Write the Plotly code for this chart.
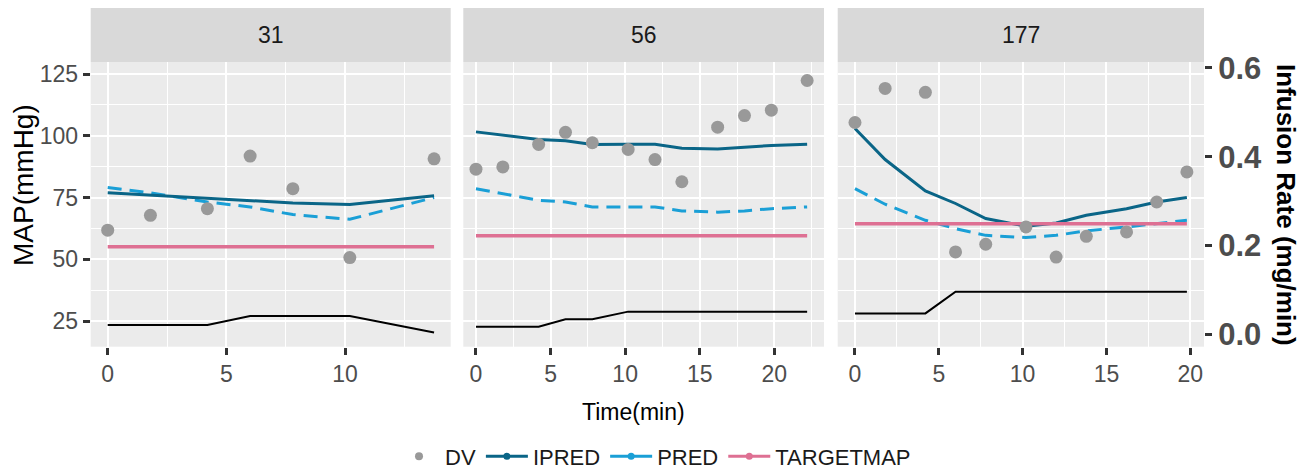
import plotly.graph_objects as go

W, H = 1309, 470
FONT = "Liberation Sans, Arial, sans-serif"

# ---- data per subject ----
subjects = ["31", "56", "177"]

time_31 = [0, 1.8, 4.2, 6.0, 7.8, 10.2, 13.75]
dv_31 = [61.8, 67.8, 70.5, 91.8, 78.6, 50.7, 90.7]
ipred_31 = [76.9, 75.9, 74.6, 73.6, 72.8, 72.2, 75.7]
pred_31 = [79.1, 76.9, 73.2, 71.2, 68.1, 66.2, 75.0]
target_31 = 55.1
rate_31 = [0.021, 0.021, 0.021, 0.041, 0.041, 0.041, 0.004]

time_56 = [0, 1.8, 4.2, 6.0, 7.8, 10.2, 12.0, 13.8, 16.2, 18.0, 19.8, 22.2]
dv_56 = [86.5, 87.4, 96.5, 101.4, 97.2, 94.5, 90.4, 81.4, 103.5, 108.2, 110.4, 122.4]
ipred_56 = [101.6, 100.3, 98.5, 98.0, 96.5, 96.6, 96.6, 95.0, 94.7, 95.4, 96.1, 96.6]
pred_56 = [78.6, 76.6, 73.9, 73.2, 71.2, 71.2, 71.2, 69.6, 69.1, 69.6, 70.5, 71.2]
target_56 = 59.5
rate_56 = [0.017, 0.017, 0.017, 0.034, 0.034, 0.051, 0.051, 0.051, 0.051, 0.051, 0.051, 0.051]

time_177 = [0, 1.8, 4.2, 6.0, 7.8, 10.2, 12.0, 13.8, 16.2, 18.0, 19.8]
dv_177 = [105.4, 119.2, 117.6, 53.0, 56.1, 63.1, 50.9, 59.3, 61.1, 73.2, 85.4]
ipred_177 = [103.0, 90.4, 77.7, 72.6, 66.5, 63.4, 64.7, 67.8, 70.5, 73.2, 75.0]
pred_177 = [78.6, 72.3, 65.8, 62.4, 59.7, 58.8, 59.7, 61.5, 63.1, 64.5, 65.8]
target_177 = 64.4
rate_177 = [0.047, 0.047, 0.047, 0.096, 0.096, 0.096, 0.096, 0.096, 0.096, 0.096, 0.096]

x_ticks = [0, 5, 10, 15, 20]
map_ticks = [25, 50, 75, 100, 125]
rate_ticks = [0.0, 0.2, 0.4, 0.6]

panels = [
    (time_31, dv_31, ipred_31, pred_31, target_31, rate_31),
    (time_56, dv_56, ipred_56, pred_56, target_56, rate_56),
    (time_177, dv_177, ipred_177, pred_177, target_177, rate_177),
]

# ---- layout geometry (pixels) ----
panel_px = [(90.7, 450.7), (463.3, 824.0), (837.7, 1204.0)]
x_ranges = [[-0.716, 14.45], [-0.85, 23.33], [-1.03, 20.82]]
plot_top, plot_bottom = 62.0, 346.7
strip_top = 8.0

def fx(p):
    return p / W

def fy(p):
    return 1 - p / H

C_DV = "#999999"
C_IPRED = "#0A6587"
C_PRED = "#1A9FD6"
C_TARGET = "#DE7093"

fig = go.Figure()

for i, (t, dv, ipred, pred, target, rate) in enumerate(panels):
    xa = "x" if i == 0 else f"x{i + 1}"
    fig.add_trace(go.Scatter(x=t, y=pred, xaxis=xa, yaxis="y", mode="lines",
                             line=dict(color=C_PRED, width=3, dash="14px,8px"),
                             showlegend=False, hoverinfo="skip"))
    fig.add_trace(go.Scatter(x=t, y=ipred, xaxis=xa, yaxis="y", mode="lines",
                             line=dict(color=C_IPRED, width=3),
                             showlegend=False, hoverinfo="skip"))
    fig.add_trace(go.Scatter(x=t, y=[target] * len(t), xaxis=xa, yaxis="y", mode="lines",
                             line=dict(color=C_TARGET, width=3.5),
                             showlegend=False, hoverinfo="skip"))
    fig.add_trace(go.Scatter(x=t, y=rate, xaxis=xa, yaxis="y2", mode="lines",
                             line=dict(color="black", width=2),
                             showlegend=False, hoverinfo="skip"))
    fig.add_trace(go.Scatter(x=t, y=dv, xaxis=xa, yaxis="y", mode="markers",
                             marker=dict(color=C_DV, size=13),
                             showlegend=False, hoverinfo="skip"))

# legend keys
fig.add_trace(go.Scatter(x=[None], y=[None], mode="markers", name="DV",
                         marker=dict(color=C_DV, size=8)))
for name, col in [("IPRED", C_IPRED), ("PRED", C_PRED), ("TARGETMAP", C_TARGET)]:
    fig.add_trace(go.Scatter(x=[None], y=[None], mode="lines+markers", name=name,
                             line=dict(color=col, width=3), marker=dict(color=col, size=7)))

axis_common = dict(
    showline=False, zeroline=False,
    showgrid=True, gridcolor="white", gridwidth=2,
    ticks="outside", ticklen=7, tickwidth=3, tickcolor="#333333",
    tickfont=dict(family=FONT, size=23, color="#4D4D4D"),
)

layout = dict(
    width=W, height=H,
    margin=dict(l=0, r=0, t=0, b=0, autoexpand=False),
    paper_bgcolor="white", plot_bgcolor="#EBEBEB",
    font=dict(family=FONT),
    showlegend=True,
    legend=dict(orientation="h", x=0.5, xanchor="center", y=-0.016, yanchor="bottom",
                font=dict(family=FONT, size=22, color="#1A1A1A"),
                itemwidth=42, traceorder="normal", bgcolor="rgba(0,0,0,0)"),
)

for i in range(3):
    key = "xaxis" if i == 0 else f"xaxis{i + 1}"
    layout[key] = dict(
        axis_common,
        domain=[fx(panel_px[i][0]), fx(panel_px[i][1])],
        range=x_ranges[i], anchor="y",
        tickmode="array", tickvals=x_ticks,
        minor=dict(tickmode="array",
                   tickvals=[v + 2.5 for v in [-5] + x_ticks],
                   showgrid=True, gridcolor="white", gridwidth=1, ticks=""),
    )

layout["yaxis"] = dict(
    axis_common,
    domain=[fy(plot_bottom), fy(plot_top)],
    range=[14.6, 129.9], anchor="x",
    tickmode="array", tickvals=map_ticks,
    minor=dict(tickmode="array", tickvals=[v - 12.5 for v in map_ticks] + [137.5],
               showgrid=True, gridcolor="white", gridwidth=1, ticks=""),
)
layout["yaxis2"] = dict(
    overlaying="y", side="right", anchor="x3",
    range=[-0.028, 0.6135],
    showgrid=False, zeroline=False, showline=False,
    tickmode="array", tickvals=rate_ticks, ticktext=[f"{v:.1f}" for v in rate_ticks],
    ticks="outside", ticklen=7, tickwidth=3, tickcolor="#333333",
    tickfont=dict(family=FONT, size=31, color="#4D4D4D", weight="bold"),
)

shapes = []
annotations = []
for i, (x0, x1) in enumerate(panel_px):
    shapes.append(dict(type="rect", xref="paper", yref="paper",
                       x0=fx(x0), x1=fx(x1), y0=fy(plot_top), y1=fy(strip_top),
                       fillcolor="#D9D9D9", line=dict(width=0), layer="below"))
    annotations.append(dict(text=subjects[i], xref="paper", yref="paper",
                            x=fx((x0 + x1) / 2), y=fy((strip_top + plot_top) / 2),
                            xanchor="center", yanchor="middle", showarrow=False,
                            font=dict(family=FONT, size=23, color="#1A1A1A")))

annotations.append(dict(text="Time(min)", xref="paper", yref="paper",
                        x=fx(633), y=fy(412), xanchor="center", yanchor="middle",
                        showarrow=False, font=dict(family=FONT, size=23, color="black")))
annotations.append(dict(text="MAP(mmHg)", xref="paper", yref="paper",
                        x=fx(24), y=fy(185), xanchor="center", yanchor="middle",
                        textangle=-90, showarrow=False,
                        font=dict(family=FONT, size=28, color="black")))
annotations.append(dict(text="Infusion Rate (mg/min)", xref="paper", yref="paper",
                        x=fx(1286), y=fy(205), xanchor="center", yanchor="middle",
                        textangle=90, showarrow=False,
                        font=dict(family=FONT, size=26, color="black", weight="bold")))

layout["shapes"] = shapes
layout["annotations"] = annotations
fig.update_layout(**layout)

fig.write_html("out.html")
